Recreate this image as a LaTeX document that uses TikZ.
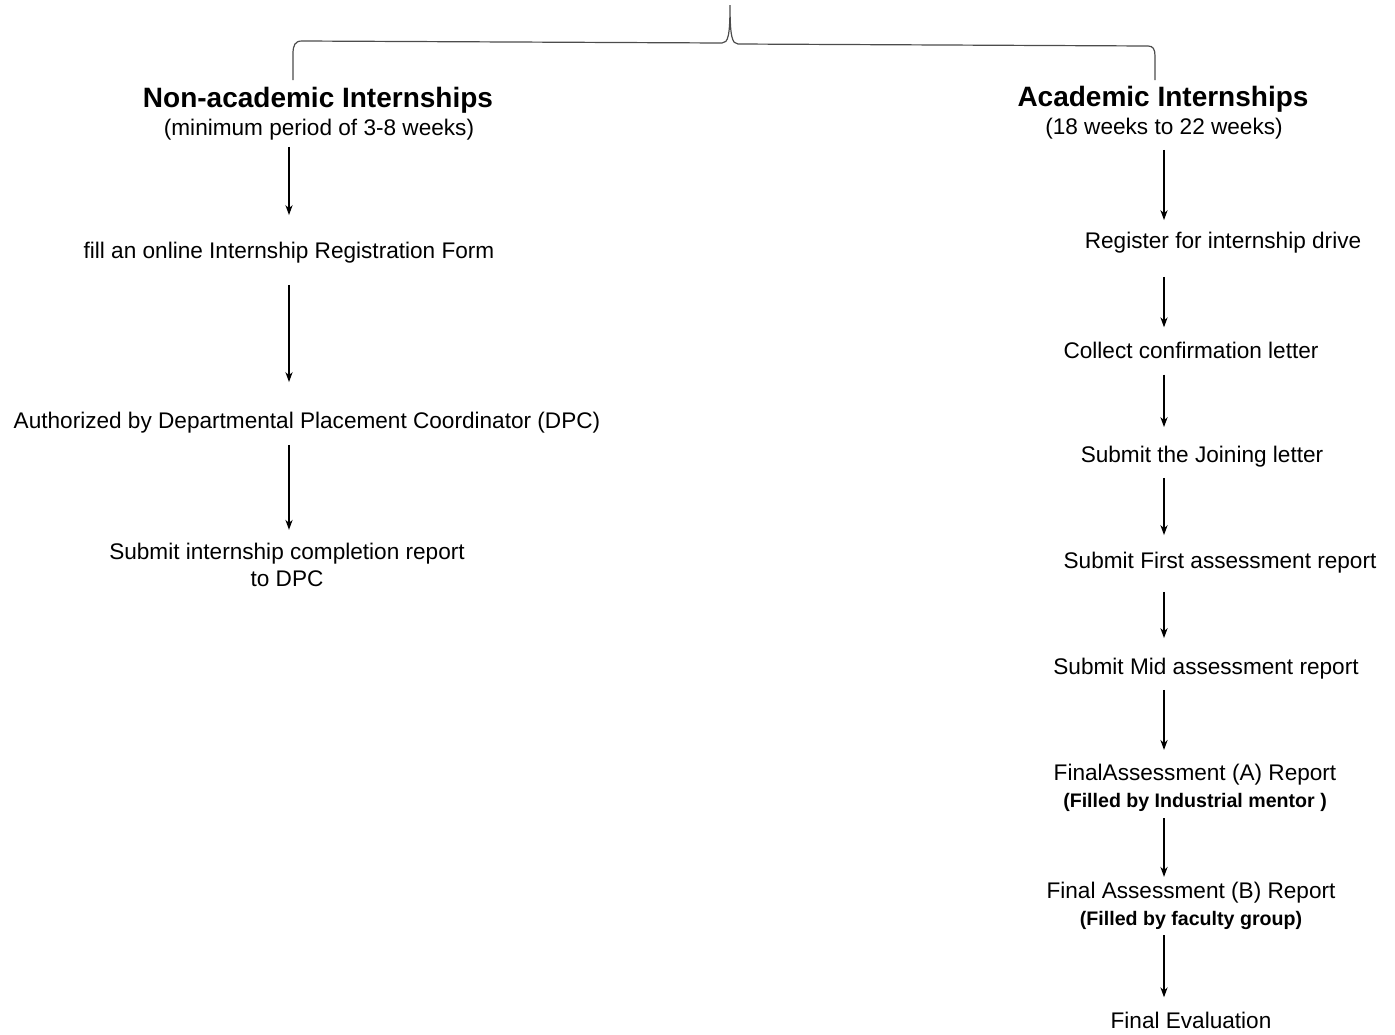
\documentclass[tikz,border=0pt]{standalone}
\usepackage{fontspec}
\setmainfont{Liberation Sans}
\usetikzlibrary{arrows.meta}

\tikzset{
	heading/.style={inner sep=0pt, font=\fontsize{14}{16}\selectfont\bfseries},
	stage/.style={inner sep=0pt, align=center, font=\fontsize{11.3}{13.5}\selectfont},
	flowarrow/.style={line width=0.7pt, -{Stealth[length=5pt,width=3.6pt]}}
}
\newcommand{\filledby}[1]{{\fontsize{9.8}{12}\selectfont\bfseries #1}}

\begin{document}
\begin{tikzpicture}[x=0.5pt, y=-0.5pt]
		\useasboundingbox (0, 0) rectangle (1395, 1034);

		% left branch
		\node [heading] (nonacad) at (318, 100) {Non-academic Internships};
		\node [stage] (nonacadsub) at (319, 130) {(minimum period of 3-8 weeks)};
		\node [stage] (regform) at (289, 253) {fill an online Internship Registration Form};
		\node [stage] (authdpc) at (307, 423) {Authorized by Departmental Placement Coordinator (DPC)};
		\node [stage] (compreport) at (287, 565) {Submit internship completion report\\to DPC};

		% right branch
		\node [heading] (acad) at (1163, 99) {Academic Internships};
		\node [stage] (acadsub) at (1164, 129) {(18 weeks to 22 weeks)};
		\node [stage] (drive) at (1223, 243) {Register for internship drive};
		\node [stage] (confirm) at (1191, 350) {Collect confirmation letter};
		\node [stage] (joining) at (1202, 457) {Submit the Joining letter};
		\node [stage] (firstrep) at (1220, 563) {Submit First assessment report};
		\node [stage] (midrep) at (1206, 669) {Submit Mid assessment report};
		\node [stage] (finala) at (1195, 788) {FinalAssessment (A) Report\\\filledby{(Filled by Industrial mentor )}};
		\node [stage] (finalb) at (1191, 906) {Final Assessment (B) Report\\\filledby{(Filled by faculty group)}};
		\node [stage] (finaleval) at (1191, 1020) {Final Evaluation};

		% brace on top
		\coordinate (tip) at (730, 5);
		\coordinate (leftend) at (293, 80);
		\coordinate (rightend) at (1155, 80);
		\draw [line width=0.6pt, color=black!70] (leftend) -- (293, 54)
			.. controls (293, 45) and (295, 41) .. (302, 41) -- (722, 43)
			.. controls (728, 43) and (730, 36) .. (tip)
			.. controls (730, 36) and (732, 44) .. (738, 44) -- (1148, 46)
			.. controls (1153, 46) and (1155, 49) .. (1155, 56) -- (rightend);

		% arrows, left
		\draw [flowarrow, shorten <=3pt, shorten >=13.5pt] (nonacadsub.south -| regform.south) -- (regform.north);
		\draw [flowarrow, shorten <=10.5pt, shorten >=15pt] (regform.south) -- (authdpc.north -| regform.south);
		\draw [flowarrow, shorten <=5.5pt, shorten >=6.5pt] (authdpc.south -| regform.south) -- (compreport.north -| regform.south);

		% arrows, right
		\draw [flowarrow, shorten <=5pt, shorten >=6pt] (acadsub.south) -- (drive.north -| acadsub.south);
		\draw [flowarrow, shorten <=11.5pt, shorten >=7pt] (drive.south -| acadsub.south) -- (confirm.north -| acadsub.south);
		\draw [flowarrow, shorten <=8pt, shorten >=9.5pt] (confirm.south -| acadsub.south) -- (joining.north -| acadsub.south);
		\draw [flowarrow, shorten <=5pt, shorten >=8.5pt] (joining.south -| acadsub.south) -- (firstrep.north -| acadsub.south);
		\draw [flowarrow, shorten <=9pt, shorten >=10pt] (firstrep.south -| acadsub.south) -- (midrep.north -| acadsub.south);
		\draw [flowarrow, shorten <=5pt, shorten >=7pt] (midrep.south -| acadsub.south) -- (finala.north -| acadsub.south);
		\draw [flowarrow, shorten <=3pt, shorten >=2.5pt] (finala.south -| acadsub.south) -- (finalb.north -| acadsub.south);
		\draw [flowarrow, shorten <=2.5pt, shorten >=7pt] (finalb.south -| acadsub.south) -- (finaleval.north -| acadsub.south);

	\end{tikzpicture}
\end{document}
